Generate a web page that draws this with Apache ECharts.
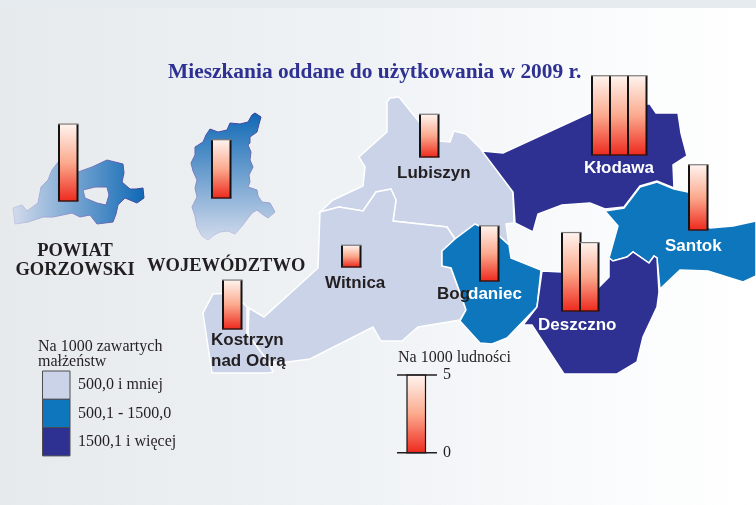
<!DOCTYPE html>
<html lang="pl">
<head>
    <meta charset="UTF-8">
    <title>Mieszkania oddane do użytkowania</title>
    <script src="https://cdn.jsdelivr.net/npm/echarts@6/dist/echarts.min.js"></script>
    <style>
        html, body { margin: 0; padding: 0; background: #fff; }
        #chart { width: 756px; height: 505px; }
    </style>
</head>
<body>
<div id="chart"></div>
<script type="text/javascript">
    // gminy, klasa wg legendy: 0 - 500,0 i mniej, 1 - 500,1-1500,0, 2 - 1500,1 i wiecej
    var regionNames = ['Lubiszyn', 'Witnica', 'Kostrzyn', 'Bogdaniec', 'Kłodawa', 'Santok', 'Deszczno']
    var regionClasses = [0, 0, 0, 1, 2, 1, 2]
    var legendLabels = ['500,0 i mniej', '500,1 - 1500,0', '1500,1 i więcej']

    // slupki: wartosc na 1000 ludnosci, kolejne kolumny tej samej jednostki obok siebie
    var barNames = ['Powiat', 'Województwo', 'Kostrzyn', 'Witnica', 'Lubiszyn', 'Bogdaniec', 'Kłodawa', 'Kłodawa', 'Kłodawa', 'Santok', 'Deszczno', 'Deszczno', 'Skala']
    var barValues = [4.95, 3.75, 3.15, 1.4, 2.75, 3.55, 5.1, 5.1, 5.1, 4.2, 5.05, 4.4, 5]
    var scaleTicks = [0, 5]

    // polozenie slupkow na rysunku (px)
    var barLeft = [59, 212, 223, 342, 420, 480, 592, 610, 628, 689, 562, 580, 407]
    var barBase = [201, 198, 329, 267, 157, 281, 155, 155, 155, 230, 311, 311, 452.7]
    var barWidth = 18.5
    var unitHeight = 15.54

    // obrysy w pikselach rysunku
    var outlines = {
        'Lubiszyn': [[[320,212],[333,200],[363,186],[365,167],[359,157],[387,132],[387,102],[390,98],[399,97],[420,123],[439,141],[450,142],[454,131],[466,134],[482,150],[513,192],[514,223],[506,224],[509,245],[498,235],[475,224],[455,239],[447,227],[393,221],[396,200],[391,189],[376,192],[363,211],[339,207]]],
        'Witnica': [[[320,212],[339,207],[363,211],[376,192],[391,189],[396,200],[393,221],[447,227],[455,239],[442,251],[442,266],[451,268],[463,301],[466,310],[460,320],[418,327],[402,341],[381,341],[373,327],[310,359],[280,363],[268,361],[248,335],[249,308],[264,317],[318,268]]],
        'Kostrzyn': [[[203,313],[213,294],[232,293],[247,307],[247,333],[268,362],[273,372],[268,373],[212,373]]],
        'Bogdaniec': [[[475,224],[455,239],[442,251],[442,266],[451,268],[463,301],[466,310],[460,321],[480,343],[492,344],[507,338],[537,307],[541,270],[511,258],[509,245],[498,235]]],
        'Kłodawa': [[[482,151],[503,153],[592,112],[645,104],[650,104],[656,113],[678,113],[681,133],[687,156],[673,165],[674,188],[657,181],[640,186],[624,207],[605,209],[590,203],[562,205],[538,214],[533,232],[515,223],[513,192]]],
        'Santok': [[[605,211],[624,208],[640,187],[657,182],[674,189],[688,192],[708,227],[710,228],[733,226],[756,221],[756,276],[743,282],[708,271],[680,270],[660,289],[657,258],[654,256],[649,263],[633,252],[627,257],[613,261],[609,258],[618,226]]],
        'Deszczno': [[[542,271],[562,272],[598,288],[609,277],[609,258],[613,261],[627,257],[633,252],[649,263],[654,256],[657,258],[659,292],[657,307],[643,337],[637,362],[617,374],[564,374],[532,325],[523,325],[537,307]]],
        'Powiat': [[[13,208],[22,205],[27,211],[38,203],[41,187],[48,180],[52,170],[59,161],[78,172],[92,167],[107,160],[115,162],[123,164],[124,173],[122,182],[130,189],[136,189],[143,188],[144,198],[137,203],[125,198],[118,205],[116,214],[113,222],[97,224],[90,215],[80,217],[72,213],[53,217],[43,217],[28,222],[15,224]],
            [[85,198],[97,203],[106,205],[109,195],[107,187],[95,187],[83,190]]],
        'Wojewodztwo': [[[255,113],[261,117],[259,124],[257,132],[250,137],[250,143],[248,145],[251,152],[250,160],[253,167],[249,175],[250,182],[248,187],[257,190],[258,196],[262,202],[270,203],[275,212],[268,218],[262,214],[257,210],[252,213],[248,218],[242,226],[235,234],[228,231],[220,232],[214,235],[208,240],[202,236],[197,227],[195,216],[192,207],[197,197],[195,188],[197,180],[193,171],[191,163],[195,155],[195,147],[203,142],[206,135],[210,129],[218,132],[227,130],[230,123],[240,124],[248,122],[252,115]]]
    }

    var classColors = ['#cad3e8', '#0e76bc', '#2e3191']

    function Gradient(x2, y2, from, to) {
        return new echarts.graphic.LinearGradient(0, 0, x2, y2, [{offset: 0, color: from}, {offset: 1, color: to}])
    }

    // uklad y odwrocony, bo geojson liczy szerokosc w gore
    var features = Object.keys(outlines).map(function (name) {
        return {
            type: 'Feature',
            properties: {name: name},
            geometry: {
                type: 'Polygon',
                coordinates: outlines[name].map(function (ring) {
                    var r = ring.map(function (p) { return [p[0], 505 - p[1]] })
                    r.push(r[0])
                    return r
                })
            }
        }
    })
    echarts.registerMap('gorzowski', {type: 'FeatureCollection', features: features})

    var regions = regionNames.map(function (name, i) {
        return {name: name, itemStyle: {areaColor: classColors[regionClasses[i]], borderColor: '#ffffff', borderWidth: 1.5}}
    })
    regions.push({name: 'Powiat', itemStyle: {areaColor: Gradient(1, 0, '#d3dbec', '#0e68b4'), borderColor: Gradient(1, 0, '#c5cbe4', '#3a3f9e'), borderWidth: 1}})
    regions.push({name: 'Wojewodztwo', itemStyle: {areaColor: Gradient(0, 1, '#0e68b4', '#d3dbec'), borderColor: Gradient(0, 1, '#34389a', '#c5cbe4'), borderWidth: 1}})

    function text(x, y, str, font, color, align) {
        return {type: 'text', z: 100, x: x, y: y, style: {text: str, font: font, fill: color, align: align || 'left', verticalAlign: 'middle'}}
    }

    var serif = '"Liberation Serif", serif'
    var sans = '"Liberation Sans", sans-serif'
    var labelFont = 'bold 17px ' + sans
    var legendFont = '16px ' + serif
    var dark = '#231f20'

    var graphics = [
        {type: 'rect', z: 0, shape: {x: 0, y: 0, width: 756, height: 8}, style: {fill: '#e6ebef'}},
        text(168, 72, 'Mieszkania oddane do użytkowania w 2009 r.', 'bold 21.4px ' + serif, '#2e3192'),
        text(75, 251, 'POWIAT', 'bold 18.5px ' + serif, dark, 'center'),
        text(75, 270, 'GORZOWSKI', 'bold 18.5px ' + serif, dark, 'center'),
        text(147, 266, 'WOJEWÓDZTWO', 'bold 18.5px ' + serif, dark),
        text(397, 173, 'Lubiszyn', labelFont, dark),
        text(325, 283, 'Witnica', labelFont, dark),
        text(211, 340, 'Kostrzyn', labelFont, dark),
        text(211, 361, 'nad Odrą', labelFont, dark),
        text(437, 294, 'Bog', labelFont, dark),
        text(468, 294, 'daniec', labelFont, '#ffffff'),
        text(584, 168, 'Kłodawa', labelFont, '#ffffff'),
        text(665, 246, 'Santok', labelFont, '#ffffff'),
        text(538, 325, 'Deszczno', labelFont, '#ffffff'),
        text(38, 347, 'Na 1000 zawartych', legendFont, dark),
        text(38, 362, 'małżeństw', legendFont, dark),
        text(398, 358, 'Na 1000 ludności', legendFont, dark)
    ]
    legendLabels.forEach(function (label, i) {
        graphics.push({type: 'rect', z: 50, shape: {x: 42.5, y: 371 + i * 28.3, width: 27.5, height: 28.3},
            style: {fill: classColors[i], stroke: '#4d4d4f', lineWidth: 1}})
        graphics.push(text(78, 385 + i * 28.3, label, legendFont, dark))
    })
    scaleTicks.forEach(function (tick) {
        var y = 452.7 - tick * unitHeight
        graphics.push({type: 'line', z: 100, shape: {x1: 397, y1: y, x2: 437, y2: y}, style: {stroke: dark, lineWidth: 1.5}})
        graphics.push(text(443, y, String(tick), legendFont, dark))
    })

    var chart = echarts.init(document.getElementById('chart'), null, {renderer: 'canvas'})
    chart.setOption({
        animation: false,
        backgroundColor: new echarts.graphic.LinearGradient(0, 0, 1, 0, [
            {offset: 0, color: '#e6eaed'},
            {offset: 0.5, color: '#f0f3f6'},
            {offset: 0.8, color: '#fafbfc'},
            {offset: 1, color: '#ffffff'}
        ]),
        graphic: graphics,
        geo: {
            map: 'gorzowski',
            silent: true,
            roam: false,
            aspectScale: 1,
            boundingCoords: [[0, 505], [756, 0]],
            left: 0, top: 0, right: 0, bottom: 0,
            label: {show: false},
            itemStyle: {areaColor: '#cad3e8', borderColor: '#ffffff', borderWidth: 1.5},
            regions: regions,
            z: 1
        },
        grid: {left: 0, top: 0, width: 756, height: 505, show: false},
        xAxis: {type: 'value', min: 0, max: 756, show: false},
        yAxis: {type: 'value', min: 0, max: 505 / unitHeight, show: false},
        series: [{
            type: 'custom',
            z: 10,
            silent: true,
            coordinateSystem: 'cartesian2d',
            data: barValues.map(function (v, i) { return {name: barNames[i], value: [barLeft[i], v, i]} }),
            encode: {x: 0, y: 1},
            renderItem: function (params, api) {
                var i = api.value(2)
                var h = api.size([0, api.value(1)])[1]
                var x = api.coord([api.value(0), 0])[0]
                var top = barBase[i] - h
                var isScale = barNames[i] === 'Skala'
                var side = isScale ? 1.2 : 2
                function edge(x1, y1, x2, y2, color, width) {
                    return {type: 'line', shape: {x1: x1, y1: y1, x2: x2, y2: y2}, style: {stroke: color, lineWidth: width}}
                }
                return {
                    type: 'group',
                    children: [
                        {
                            type: 'rect',
                            shape: {x: x, y: top, width: barWidth, height: h},
                            style: {
                                fill: new echarts.graphic.LinearGradient(0, 0, 0, 1, [
                                    {offset: 0, color: '#fff4ef'},
                                    {offset: 0.5, color: '#fbaa8e'},
                                    {offset: 1, color: '#ee2a1e'}
                                ])
                            }
                        },
                        edge(x, top, x, top + h, '#141212', side),
                        edge(x + barWidth, top, x + barWidth, top + h, '#141212', side),
                        edge(x - 1, top, x + barWidth + 1, top, isScale ? '#231f20' : '#7d7a7a', 1.2),
                        edge(x - 1, top + h, x + barWidth + 1, top + h, isScale ? '#231f20' : '#3d1512', 1.5)
                    ]
                }
            }
        }]
    })
</script>
</body>
</html>
